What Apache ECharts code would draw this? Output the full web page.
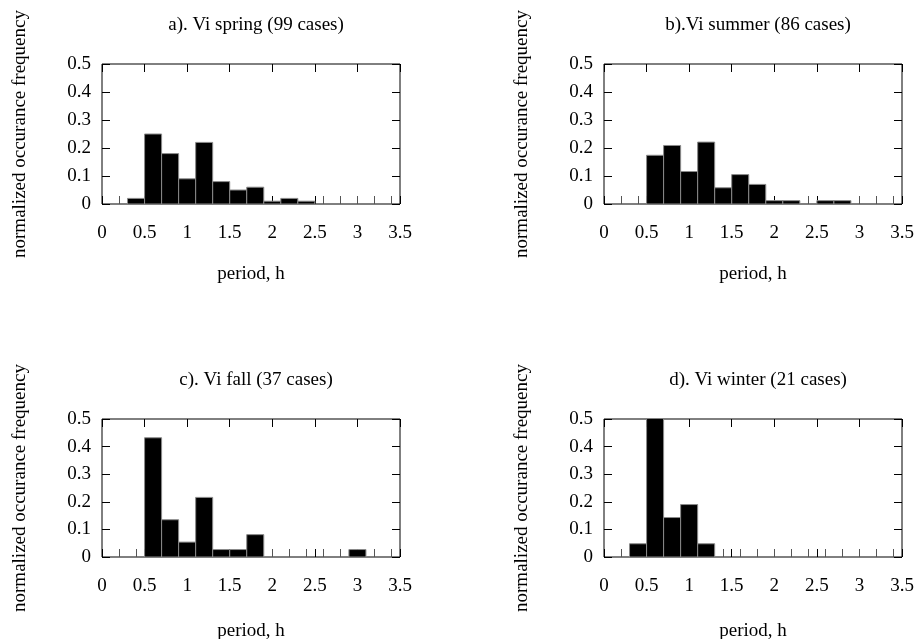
<!DOCTYPE html>
<html>
<head>
<meta charset="utf-8">
<script src="https://cdn.jsdelivr.net/npm/echarts@6/dist/echarts.min.js"></script>
<style>
  html, body { margin: 0; padding: 0; background: #fff; }
  #chart { width: 917px; height: 639px; }
</style>
</head>
<body>
<div id="chart"></div>
<script>
// Histogram bin centres (period, h); each bin is 0.2 h wide
const binCenters = [0.2, 0.4, 0.6, 0.8, 1.0, 1.2, 1.4, 1.6, 1.8, 2.0, 2.2, 2.4, 2.6, 2.8, 3.0, 3.2, 3.4];
const binWidth = 0.2;

// Normalized occurrence frequency per bin, one array per season
const spring = [0, 0.02, 0.25, 0.18, 0.09, 0.22, 0.08, 0.05, 0.06, 0.01, 0.02, 0.01, 0, 0, 0, 0, 0];
const summer = [0, 0, 0.174, 0.209, 0.116, 0.221, 0.058, 0.105, 0.07, 0.012, 0.012, 0, 0.012, 0.012, 0, 0, 0];
const fall   = [0, 0, 0.432, 0.135, 0.054, 0.216, 0.027, 0.027, 0.081, 0, 0, 0, 0, 0, 0.027, 0, 0];
const winter = [0, 0.048, 0.571, 0.143, 0.19, 0.048, 0, 0, 0, 0, 0, 0, 0, 0, 0, 0, 0];

const panelTitles = ['a). Vi spring (99 cases)', 'b).Vi summer (86 cases)', 'c). Vi fall (37 cases)', 'd). Vi winter (21 cases)'];
const xTickValues = [0, 0.5, 1, 1.5, 2, 2.5, 3, 3.5];
const yTickValues = [0, 0.1, 0.2, 0.3, 0.4, 0.5];
const xAxisTitle = 'period, h';
const yAxisTitle = 'normalized occurance frequency';

const seasons = [spring, summer, fall, winter];

const FONT = 'Liberation Serif';
const FS = 19;

const grids = [
  { left: 102, top: 64, width: 298, height: 140 },
  { left: 604, top: 64, width: 298, height: 140 },
  { left: 102, top: 419, width: 298, height: 138 },
  { left: 604, top: 419, width: 298, height: 138 }
];
const titleTops = [11, 11, 366, 366];
const xNameGaps = [61, 61, 65, 65];

function fmt(v) { return String(Number(v.toFixed(1))); }

const tickStyle = { show: true, inside: true, length: 8, lineStyle: { color: '#000', width: 1 } };
const textStyle = { fontFamily: FONT, fontSize: FS, color: '#000' };

const xAxes = [], yAxes = [], series = [], titles = [];

grids.forEach((g, i) => {
  // bottom axis with labels and inward ticks
  xAxes.push({
    type: 'value', gridIndex: i, position: 'bottom',
    min: xTickValues[0], max: xTickValues[xTickValues.length - 1], interval: 0.5,
    name: xAxisTitle, nameLocation: 'middle', nameGap: xNameGaps[i],
    nameTextStyle: textStyle,
    axisLine: { show: false, onZero: false },
    axisTick: tickStyle,
    axisLabel: Object.assign({ show: true, margin: 20, formatter: fmt }, textStyle),
    splitLine: { show: false }
  });
  // mirrored ticks on the top border
  xAxes.push({
    type: 'value', gridIndex: i, position: 'top',
    min: xTickValues[0], max: xTickValues[xTickValues.length - 1], interval: 0.5,
    axisLine: { show: false, onZero: false },
    axisTick: tickStyle,
    axisLabel: { show: false },
    splitLine: { show: false }
  });
  yAxes.push({
    type: 'value', gridIndex: i, position: 'left',
    min: yTickValues[0], max: yTickValues[yTickValues.length - 1], interval: 0.1,
    name: yAxisTitle, nameLocation: 'middle', nameGap: 72, nameRotate: 90,
    nameTextStyle: textStyle,
    axisLine: { show: false, onZero: false },
    axisTick: tickStyle,
    axisLabel: Object.assign({ show: true, margin: 11, formatter: fmt }, textStyle),
    splitLine: { show: false }
  });
  // mirrored ticks on the right border
  yAxes.push({
    type: 'value', gridIndex: i, position: 'right',
    min: yTickValues[0], max: yTickValues[yTickValues.length - 1], interval: 0.1,
    axisLine: { show: false, onZero: false },
    axisTick: tickStyle,
    axisLabel: { show: false },
    splitLine: { show: false }
  });

  series.push({
    type: 'custom',
    xAxisIndex: i * 2,
    yAxisIndex: i * 2,
    clip: true,
    data: binCenters.map((c, k) => [c, seasons[i][k]]),
    renderItem: function (params, api) {
      const c = api.value(0);
      const v = api.value(1);
      if (v > 0) {
        const p0 = api.coord([c - binWidth / 2, v]);
        const p1 = api.coord([c + binWidth / 2, 0]);
        return {
          type: 'rect',
          shape: { x: p0[0], y: p0[1], width: p1[0] - p0[0], height: p1[1] - p0[1] },
          style: { fill: '#000', stroke: '#8a8a8a', lineWidth: 1 }
        };
      }
      // empty bins appear as a short vertical stroke across the axis
      const p = api.coord([c, 0]);
      return {
        type: 'line',
        shape: { x1: Math.round(p[0]) + 0.5, y1: p[1] - 8, x2: Math.round(p[0]) + 0.5, y2: p[1] + 8 },
        style: { stroke: '#555', lineWidth: 1 }
      };
    }
  });

  titles.push({
    text: panelTitles[i],
    left: g.left + g.width / 2,
    top: titleTops[i],
    textAlign: 'center',
    textStyle: { fontFamily: FONT, fontSize: FS, fontWeight: 'normal', color: '#000' }
  });
});

const chart = echarts.init(document.getElementById('chart'), null, { renderer: 'canvas' });
chart.setOption({
  backgroundColor: '#fff',
  animation: false,
  title: titles,
  grid: grids.map(g => Object.assign({
    show: true, borderColor: '#000', borderWidth: 1, backgroundColor: 'transparent',
    containLabel: false, outerBoundsMode: 'none'
  }, g)),
  xAxis: xAxes,
  yAxis: yAxes,
  series: series
});
</script>
</body>
</html>
